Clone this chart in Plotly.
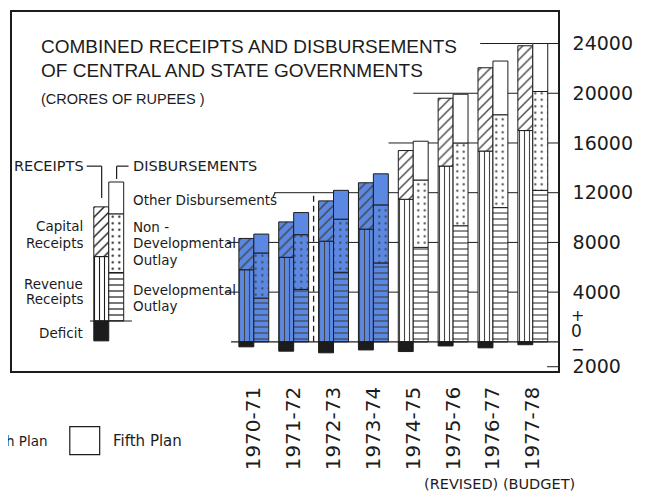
"""
Combined receipts and disbursements of Central and State governments,
1970-71 to 1977-78 (crores of rupees). Paired stacked bars per year.
"""

import plotly.graph_objects as go

# ── Data ───────────────────────────────────────────────────────────────────────

YEARS = ["1970-71", "1971-72", "1972-73", "1973-74",
         "1974-75", "1975-76", "1976-77", "1977-78"]
PLAN = ["Fourth", "Fourth", "Fourth", "Fourth",
        "Fifth", "Fifth", "Fifth", "Fifth"]

REVENUE_RECEIPTS = [5800, 6800, 8100, 9070, 11470, 14140, 15350, 17000]
CAPITAL_RECEIPTS = [2520, 2850, 3240, 3730, 3920, 5460, 6700, 6820]
DEFICIT          = [400, 750, 880, 650, 780, 330, 480, 230]

DEVELOPMENTAL     = [3520, 4220, 5600, 6350, 7600, 9340, 10800, 12190]
NON_DEVELOPMENTAL = [3630, 4400, 4270, 4670, 5420, 6660, 7470, 7950]
OTHER_DISB        = [1520, 1780, 2320, 2500, 3120, 3920, 4320, 3860]

Y_TICKS = [-2000, 4000, 8000, 12000, 16000, 20000, 24000]
Y_TICK_TEXT = ["2000", "4000", "8000", "12000", "16000", "20000", "24000"]

# schematic key bar (left-hand explanation)
KEY_RECEIPTS = [5180, 4000]          # revenue, capital
KEY_DEFICIT = 1600
KEY_DISB = [3900, 4720, 2560]        # developmental, non-dev, other

# ── Styling / geometry ─────────────────────────────────────────────────────────

_FONT = "DejaVu Sans, Verdana, sans-serif"
_TITLE_FONT = "Liberation Sans, Arial, sans-serif"
_INK = "#1c1c1c"
_BLUE = "#5b88e2"
_PLAN_COLOR = {"Fourth": _BLUE, "Fifth": "#ffffff"}

PAGE_W, PAGE_H = 655, 493
OFF = 8                                # default body margin of the html page
W, H = PAGE_W - OFF, PAGE_H - OFF
L, R, T, B = 10, 558, 10, 371          # plot area in page pixels
X_RANGE = [-6.0675, 7.6325]
Y_RANGE = [-2344, 26536]
BAR_W = 0.375
KEY_X = -3.64
KEY_BASE = 1680
TEXT_PAD = 3                           # annotation box padding


def _px(x, y):
    """page pixel -> paper coords"""
    return (x - L) / (R - L), (B - y) / (B - T)


def _pattern(shape, size, solidity):
    return dict(shape=shape, size=size, solidity=solidity,
                fgcolor=_INK, fgopacity=1, fillmode="overlay")


def _bar(x, y, base, offset, colors, pattern=None):
    marker = dict(color=colors, line=dict(color=_INK, width=1))
    if pattern:
        marker["pattern"] = pattern
    return go.Bar(x=x, y=y, base=base, offset=offset, width=BAR_W,
                  marker=marker, showlegend=False, hoverinfo="skip")


idx = list(range(len(YEARS)))
colors = [_PLAN_COLOR[p] for p in PLAN]
cap_base = REVENUE_RECEIPTS
nondev_base = DEVELOPMENTAL
other_base = [d + n for d, n in zip(DEVELOPMENTAL, NON_DEVELOPMENTAL)]

P_VERT = _pattern("|", 5, 0.22)
P_HATCH = _pattern("/", 7, 0.2)
P_HORIZ = _pattern("-", 6, 0.2)
P_DOTS = _pattern(".", 6.5, 0.09)

traces = [
    # receipts (left bar of each pair)
    _bar(idx, REVENUE_RECEIPTS, 0, -BAR_W, colors, P_VERT),
    _bar(idx, CAPITAL_RECEIPTS, cap_base, -BAR_W, colors, P_HATCH),
    _bar(idx, [-d for d in DEFICIT], 0, -BAR_W, _INK),
    # disbursements (right bar)
    _bar(idx, DEVELOPMENTAL, 0, 0, colors, P_HORIZ),
    _bar(idx, NON_DEVELOPMENTAL, nondev_base, 0, colors, P_DOTS),
    _bar(idx, OTHER_DISB, other_base, 0, colors),
    # key bars
    _bar([KEY_X], [KEY_RECEIPTS[0]], KEY_BASE, -BAR_W, "#ffffff", P_VERT),
    _bar([KEY_X], [KEY_RECEIPTS[1]], KEY_BASE + KEY_RECEIPTS[0], -BAR_W, "#ffffff", P_HATCH),
    _bar([KEY_X], [-KEY_DEFICIT], KEY_BASE, -BAR_W, _INK),
    _bar([KEY_X], [KEY_DISB[0]], KEY_BASE, 0, "#ffffff", P_HORIZ),
    _bar([KEY_X], [KEY_DISB[1]], KEY_BASE + KEY_DISB[0], 0, "#ffffff", P_DOTS),
    _bar([KEY_X], [KEY_DISB[2]], KEY_BASE + KEY_DISB[0] + KEY_DISB[1], 0, "#ffffff"),
]

fig = go.Figure(traces)

# ── Partial grid lines (start just left of where bars reach them) ─────────────

grid_start = {0: -0.57, 4000: -0.72, 8000: -0.67, 12000: 0.51,
              16000: 3.38, 20000: 4.0, 24000: 5.68, -2000: 7.36}
for yv, x0 in grid_start.items():
    fig.add_shape(type="line", xref="x", yref="y", x0=x0, x1=X_RANGE[1],
                  y0=yv, y1=yv, layer="below" if yv else "above",
                  line=dict(color=_INK, width=1.4 if yv == 0 else 1))

# dashed divider between 1971-72 and 1972-73
fig.add_shape(type="line", xref="x", yref="y", x0=1.5, x1=1.5, y0=0, y1=12000,
              layer="below", line=dict(color=_INK, width=1.3, dash="6px,4px"))

# key baseline
fig.add_shape(type="line", xref="x", yref="y", x0=KEY_X - 0.47, x1=KEY_X + 0.58,
              y0=KEY_BASE, y1=KEY_BASE, line=dict(color=_INK, width=1.2))

# bracket leaders for RECEIPTS / DISBURSEMENTS, hook after "Other Disbursements"
for pts in ([(85, 165), (100, 165), (100, 197)],
            [(127, 165), (115, 165), (115, 178)],
            [(272, 196), (274, 192)]):
    for (xa, ya), (xb, yb) in zip(pts, pts[1:]):
        x0, y0 = _px(xa, ya)
        x1, y1 = _px(xb, yb)
        fig.add_shape(type="line", xref="paper", yref="paper",
                      x0=x0, y0=y0, x1=x1, y1=y1,
                      line=dict(color=_INK, width=1.2))

# Fifth Plan key box
bx0, by0 = _px(68, 455)
bx1, by1 = _px(98, 427)
fig.add_shape(type="rect", xref="paper", yref="paper", x0=bx0, y0=by0,
              x1=bx1, y1=by1, fillcolor="#ffffff",
              line=dict(color=_INK, width=1.2))

# ── Text ──────────────────────────────────────────────────────────────────────

labels = [
    # (x px, y px, text, anchor, size, family)
    (40, 45, "COMBINED RECEIPTS AND DISBURSEMENTS", "left", 19, _TITLE_FONT),
    (40, 69, "OF CENTRAL AND STATE GOVERNMENTS", "left", 19, _TITLE_FONT),
    (40, 97, "(CRORES OF RUPEES )", "left", 14.5, _TITLE_FONT),
    (13, 165, "RECEIPTS", "left", 14.5, _FONT),
    (132, 165, "DISBURSEMENTS", "left", 14.5, _FONT),
    (83, 225, "Capital", "right", 13.5, _FONT),
    (83, 242, "Receipts", "right", 13.5, _FONT),
    (83, 284, "Revenue", "right", 13.5, _FONT),
    (83, 299, "Receipts", "right", 13.5, _FONT),
    (83, 333, "Deficit", "right", 13.5, _FONT),
    (132, 199, "Other Disbursements", "left", 13.5, _FONT),
    (132, 226, "Non -", "left", 13.5, _FONT),
    (132, 242, "Developmental", "left", 13.5, _FONT),
    (132, 259, "Outlay", "left", 13.5, _FONT),
    (132, 290, "Developmental", "left", 13.5, _FONT),
    (132, 306, "Outlay", "left", 13.5, _FONT),
    (48, 441, "Fourth Plan", "right", 13.5, _FONT),
    (112, 441, "Fifth Plan", "left", 15, _FONT),
    (425, 485, "(REVISED) (BUDGET)", "left", 14.5, _FONT),
    (572, 315, "+", "left", 16, _FONT),
    (572, 331, "0", "left", 17, _FONT),
    (572, 349, "\u2212", "left", 16, _FONT),
]
for xp, yp, text, anchor, size, family in labels:
    shift = -TEXT_PAD if anchor == "left" else 0
    ax, ay = _px(xp + shift, yp)
    fig.add_annotation(x=ax, y=ay, xref="paper", yref="paper", text=text,
                       showarrow=False, xanchor=anchor, yanchor="middle",
                       font=dict(family=family, size=size, color=_INK))

# ── Layout ────────────────────────────────────────────────────────────────────

fig.update_layout(
    width=W, height=H,
    margin=dict(l=L - OFF, r=PAGE_W - R, t=T - OFF, b=PAGE_H - B, pad=0),
    paper_bgcolor="#ffffff",
    plot_bgcolor="#ffffff",
    barmode="overlay",
    showlegend=False,
    font=dict(family=_FONT, color=_INK),
    xaxis=dict(
        range=X_RANGE, tickmode="array", tickvals=idx, ticktext=YEARS,
        tickangle=-90, tickfont=dict(size=20, family=_FONT, color=_INK),
        ticks="", ticklabelstandoff=6,
        showgrid=False, zeroline=False,
        showline=True, mirror=True, linecolor=_INK, linewidth=1.5,
    ),
    yaxis=dict(
        range=Y_RANGE, side="right", tickmode="array",
        tickvals=Y_TICKS, ticktext=Y_TICK_TEXT,
        tickfont=dict(size=19, family=_FONT, color=_INK),
        ticks="", ticklabelstandoff=9,
        showgrid=False, zeroline=False,
        showline=True, mirror=True, linecolor=_INK, linewidth=1.5,
    ),
)

fig.write_html("out.html")
